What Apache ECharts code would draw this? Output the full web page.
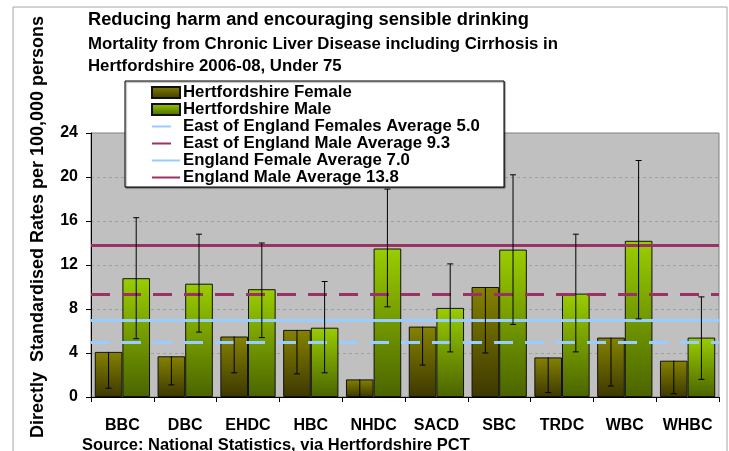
<!DOCTYPE html>
<html>
<head>
<meta charset="utf-8">
<script src="https://cdn.jsdelivr.net/npm/echarts@6/dist/echarts.min.js"></script>
<style>
  html, body { margin: 0; padding: 0; background: #fff; }
  #chart { width: 729px; height: 451px; }
</style>
</head>
<body>
<div id="chart"></div>
<script>
  var categories = ['BBC', 'DBC', 'EHDC', 'HBC', 'NHDC', 'SACD', 'SBC', 'TRDC', 'WBC', 'WHBC']

  var femaleRate = [4.1, 3.7, 5.5, 6.1, 1.6, 6.4, 10.0, 3.6, 5.4, 3.3]
  var femaleLow = [0.8, 1.1, 2.2, 2.1, 0.0, 2.9, 4.0, 0.4, 1.0, 0.3]

  var maleRate = [10.8, 10.3, 9.8, 6.3, 13.5, 8.1, 13.4, 9.4, 14.2, 5.4]
  var maleLow = [5.3, 5.9, 5.4, 2.2, 8.2, 4.1, 6.6, 4.1, 7.1, 1.6]
  var maleHigh = [16.3, 14.8, 14.0, 10.5, 18.9, 12.1, 20.2, 14.8, 21.5, 9.1]

  var avgNames = [
    'East of England Females Average 5.0',
    'East of England Male Average 9.3',
    'England Female Average 7.0',
    'England Male Average 13.8'
  ]
  var avgValues = [5.0, 9.3, 7.0, 13.8]
  var avgColors = ['#99ccff', '#993366', '#99ccff', '#993366']
  var avgDashed = [true, true, false, false]

  var yMin = 0
  var yMax = 24
  var yStep = 4

  var FONT = "'Liberation Sans', Arial, sans-serif"
  var GAP = 0.12

  var chart = echarts.init(document.getElementById('chart'))

  // error bars sit on the middle of the female (-1) or male (+1) bar
  function errorBars (side, capTop) {
    return function (params, api) {
      var i = api.value(0)
      var lo = api.coord([i, api.value(1)])
      var hi = api.coord([i, api.value(2)])
      var catW = api.size([1, 0])[0]
      var barW = catW * (1 - GAP) / 2
      var x = lo[0] + side * barW / 2
      var cap = 3
      var style = { stroke: '#000', lineWidth: 1 }
      var kids = [
        { type: 'line', shape: { x1: x, y1: lo[1], x2: x, y2: hi[1] }, style: style },
        { type: 'line', shape: { x1: x - cap, y1: lo[1], x2: x + cap, y2: lo[1] }, style: style }
      ]
      if (capTop) {
        kids.push({ type: 'line', shape: { x1: x - cap, y1: hi[1], x2: x + cap, y2: hi[1] }, style: style })
      }
      return { type: 'group', children: kids }
    }
  }

  var series = [{
    name: 'Hertfordshire Female',
    type: 'bar',
    barGap: '0%',
    barCategoryGap: (GAP * 100) + '%',
    itemStyle: {
      color: new echarts.graphic.LinearGradient(0, 0, 0, 1, [
        { offset: 0, color: '#858200' },
        { offset: 1, color: '#3d3800' }
      ]),
      borderColor: '#111',
      borderWidth: 1
    },
    data: femaleRate
  }, {
    name: 'Hertfordshire Male',
    type: 'bar',
    itemStyle: {
      color: new echarts.graphic.LinearGradient(0, 0, 0, 1, [
        { offset: 0, color: '#9acd00' },
        { offset: 1, color: '#4b6400' }
      ]),
      borderColor: '#111',
      borderWidth: 1
    },
    data: maleRate
  }]

  for (var k = 0; k < avgNames.length; k++) {
    var ls = {
      color: avgColors[k],
      width: 3,
      type: avgDashed[k] ? [19, 12] : 'solid'
    }
    series.push({
      name: avgNames[k],
      type: 'line',
      symbol: 'none',
      color: avgColors[k],
      lineStyle: ls,
      data: [],
      markLine: {
        silent: true,
        symbol: 'none',
        label: { show: false },
        lineStyle: ls,
        data: [{ yAxis: avgValues[k] }]
      }
    })
  }

  series.push({
    type: 'custom',
    z: 5,
    renderItem: errorBars(-1, false),
    data: categories.map(function (c, i) { return [i, femaleLow[i], femaleRate[i]] })
  }, {
    type: 'custom',
    z: 5,
    renderItem: errorBars(1, true),
    data: categories.map(function (c, i) { return [i, maleLow[i], maleHigh[i]] })
  })

  chart.setOption({
    animation: false,
    textStyle: { fontFamily: FONT },
    title: {
      left: 88,
      top: 11,
      padding: 0,
      itemGap: 4,
      text: 'Reducing harm and encouraging sensible drinking',
      textStyle: { fontFamily: FONT, fontSize: 18.3, fontWeight: 'bold', color: '#000', lineHeight: 18 },
      subtext: 'Mortality from Chronic Liver Disease including Cirrhosis in\nHertfordshire 2006-08, Under 75',
      subtextStyle: { fontFamily: FONT, fontSize: 16.8, fontWeight: 'bold', color: '#000', lineHeight: 22 }
    },
    legend: {
      orient: 'vertical',
      left: 151,
      top: 84,
      padding: 0,
      itemGap: 0,
      itemWidth: 28,
      itemHeight: 11,
      z: 20,
      data: [
        { name: 'Hertfordshire Female', icon: 'rect' },
        { name: 'Hertfordshire Male', icon: 'rect' }
      ].concat(avgNames.map(function (n) {
        return { name: n, itemStyle: { opacity: 0 } }
      })),
      textStyle: { fontFamily: FONT, fontSize: 16.8, fontWeight: 'bold', color: '#000', lineHeight: 17, padding: [0, 0, 0, -2] }
    },
    graphic: [{
      type: 'rect',
      z: -10,
      shape: { x: 13, y: 7, width: 714, height: 460 },
      style: { fill: 'none', stroke: '#a6a6a6', lineWidth: 1 }
    }, {
      type: 'rect',
      z: 15,
      shape: { x: 125, y: 81, width: 379, height: 106 },
      style: { fill: '#fff', stroke: '#000', lineWidth: 1, shadowColor: 'rgba(0,0,0,0.45)', shadowOffsetX: 1, shadowOffsetY: 1, shadowBlur: 1 }
    }, {
      type: 'text',
      x: 38,
      y: 227,
      rotation: Math.PI / 2,
      style: {
        text: 'Directly  Standardised Rates per 100,000 persons',
        font: 'bold 18px ' + FONT,
        fill: '#000',
        textAlign: 'center',
        textVerticalAlign: 'middle'
      }
    }, {
      type: 'text',
      x: 82,
      y: 445,
      style: {
        text: 'Source: National Statistics, via Hertfordshire PCT',
        font: 'bold 16.5px ' + FONT,
        fill: '#000',
        textAlign: 'left',
        textVerticalAlign: 'middle'
      }
    }],
    grid: {
      left: 91,
      top: 133,
      right: 10,
      bottom: 54,
      show: true,
      backgroundColor: '#c0c0c0',
      borderColor: '#808080',
      borderWidth: 1
    },
    xAxis: {
      type: 'category',
      data: categories,
      axisLine: { lineStyle: { color: '#000', width: 1 } },
      axisTick: { show: true, length: 5, lineStyle: { color: '#000' } },
      axisLabel: { interval: 0, hideOverlap: false, fontFamily: FONT, fontSize: 16, fontWeight: 'bold', color: '#000', margin: 21 }
    },
    yAxis: {
      type: 'value',
      min: yMin,
      max: yMax,
      interval: yStep,
      axisLine: { show: true, lineStyle: { color: '#000', width: 1 } },
      axisTick: { show: true, length: 5, lineStyle: { color: '#000' } },
      axisLabel: { fontFamily: FONT, fontSize: 16, fontWeight: 'bold', color: '#000', margin: 13 },
      splitLine: { show: true, lineStyle: { color: '#a0a0a0', type: [3, 3], width: 1 } }
    },
    series: series
  })
</script>
</body>
</html>
